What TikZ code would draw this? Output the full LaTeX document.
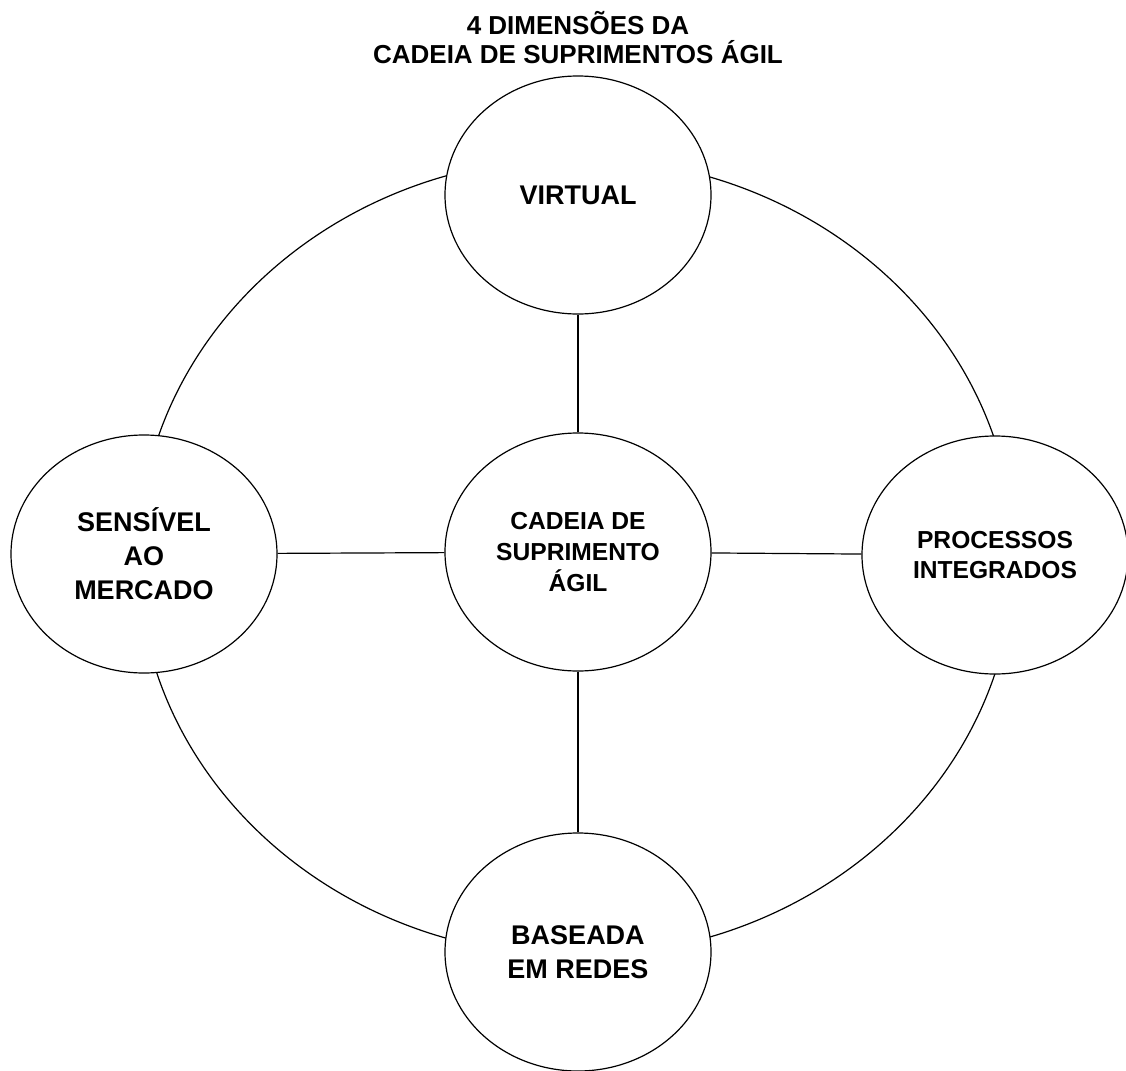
\documentclass[tikz,border=0pt]{standalone}
\usepackage{fontspec}
\setmainfont{Liberation Sans}
\usetikzlibrary{shapes.geometric}
\begin{document}
\begin{tikzpicture}[x=0.5pt,y=-0.5pt,
  dimensao/.style={draw,ellipse,fill=white,line width=0.6pt,minimum width=133pt,minimum height=119pt,align=center,inner sep=0pt},
  grande/.style={font=\fontsize{13.5}{17}\selectfont\bfseries},
  pequena/.style={font=\fontsize{12.3}{15.3}\selectfont\bfseries},
  ligacao/.style={line width=0.6pt}]
\useasboundingbox (0,0) rectangle (1126,1071);
\node[font=\fontsize{13}{14.5}\selectfont\bfseries,align=center] (titulo) at (578,38) {4 DIMENSÕES DA\\CADEIA DE SUPRIMENTOS ÁGIL};
\draw[ligacao] (576,557) ellipse [x radius=219pt, y radius=199.5pt];
\node[dimensao,grande] (virtual) at (578,195) {VIRTUAL};
\node[dimensao,grande] (sensivel) at (144,554) {SENSÍVEL\\AO\\MERCADO};
\node[dimensao,pequena] (processos) at (995,555) {PROCESSOS\\INTEGRADOS};
\node[dimensao,grande] (redes) at (578,952) {BASEADA\\EM REDES};
\node[dimensao,pequena] (cadeia) at (578,552) {CADEIA DE\\SUPRIMENTO\\ÁGIL};
\draw[ligacao] (cadeia) -- (virtual);
\draw[ligacao] (cadeia) -- (sensivel);
\draw[ligacao] (cadeia) -- (processos);
\draw[ligacao] (cadeia) -- (redes);
\end{tikzpicture}
\end{document}
